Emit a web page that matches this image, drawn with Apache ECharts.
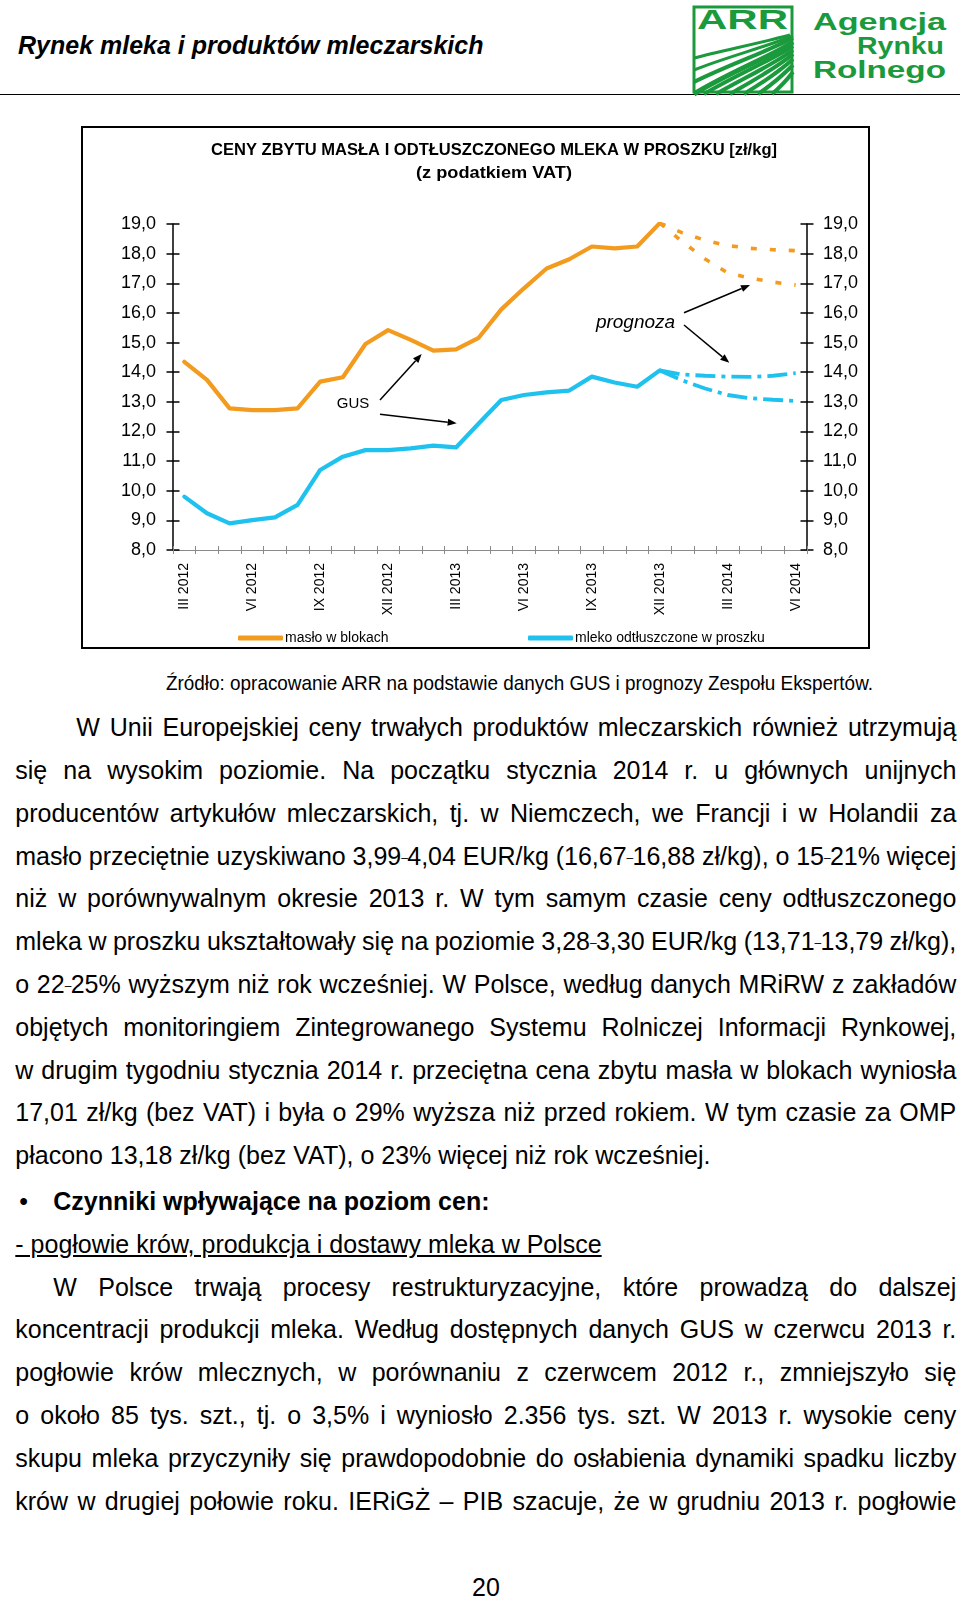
<!DOCTYPE html>
<html><head><meta charset="utf-8">
<script src="https://cdn.jsdelivr.net/npm/echarts/dist/echarts.min.js"></script>
<style>
html,body{margin:0;padding:0;background:#fff;}
body{width:960px;height:1598px;position:relative;overflow:hidden;font-family:"Liberation Sans",Arial,sans-serif;color:#000;}
#hdr{position:absolute;left:18px;top:30px;line-height:30px;font-style:italic;font-weight:bold;font-size:25px;white-space:nowrap;}
#rule{position:absolute;left:0;top:94px;width:960px;height:0;border-top:1.5px solid #000;}
#logo{position:absolute;left:690px;top:2px;}
#chart{position:absolute;left:81px;top:126px;width:789px;height:523px;border:2px solid #000;box-sizing:border-box;}
.fit{position:absolute;white-space:nowrap;transform-origin:0 50%;}
.blk{position:absolute;left:15.3px;width:941px;font-size:25px;}
.ln{height:42.8px;line-height:42.8px;white-space:nowrap;}
.nd{display:inline-block;width:6px;text-align:center;font-size:12px;position:relative;top:-3px;line-height:1;}
#pg{position:absolute;left:0;width:960px;text-align:center;top:1572px;line-height:30px;font-size:25px;padding-left:12px;box-sizing:border-box;}
</style></head>
<body>
<div id="hdr">Rynek mleka i produktów mleczarskich</div>
<div id="rule"></div>
<svg id="logo" width="270" height="95" xmlns="http://www.w3.org/2000/svg">
  <g stroke="#1a9a3d" fill="none">
    <path d="M4,92 C40,70 80,55 103,40" stroke-width="5"/>
    <path d="M14,92 C48,72 82,58 103,44" stroke-width="4"/>
    <path d="M26,92 C56,75 86,61 103,48" stroke-width="4"/>
    <path d="M40,92 C64,78 88,65 103,52" stroke-width="4"/>
    <path d="M54,92 C72,81 90,69 103,57" stroke-width="4"/>
    <path d="M68,92 C80,84 92,74 103,63" stroke-width="4"/>
    <path d="M82,92 C88,87 96,79 103,70" stroke-width="4"/>
    <path d="M4,80 C36,64 76,50 103,36" stroke-width="4"/>
    <path d="M4,68 C34,56 72,46 103,34" stroke-width="3"/>
    <path d="M4,56 C30,49 66,42 100,33" stroke-width="3"/>
  </g>
  <rect x="4" y="5" width="98" height="85" fill="none" stroke="#1a9a3d" stroke-width="3"/>
  <text x="7" y="27" font-family="Liberation Sans, Arial" font-weight="bold" font-size="28" fill="#1a9a3d" textLength="91" lengthAdjust="spacingAndGlyphs">ARR</text>
  <text x="123" y="28" font-family="Liberation Sans, Arial" font-weight="bold" font-size="24" fill="#1a9a3d" textLength="133" lengthAdjust="spacingAndGlyphs">Agencja</text>
  <text x="167" y="52" font-family="Liberation Sans, Arial" font-weight="bold" font-size="24" fill="#1a9a3d" textLength="87" lengthAdjust="spacingAndGlyphs">Rynku</text>
  <text x="123" y="76" font-family="Liberation Sans, Arial" font-weight="bold" font-size="24" fill="#1a9a3d" textLength="133" lengthAdjust="spacingAndGlyphs">Rolnego</text>
</svg>

<div id="chart"></div>

<div id="src" class="fit" data-w="707" style="left:166px;top:667.7px;line-height:30px;font-size:21px;">Źródło: opracowanie ARR na podstawie danych GUS i prognozy Zespołu Ekspertów.</div>

<div class="blk" id="b1" style="top:706.2px;"></div>
<div class="blk" id="b2" style="top:1180.1px;"></div>
<div id="pg">20</div>

<script>
// ---------------- chart data ----------------
const months = ['III 2012','IV 2012','V 2012','VI 2012','VII 2012','VIII 2012','IX 2012','X 2012','XI 2012','XII 2012',
  'I 2013','II 2013','III 2013','IV 2013','V 2013','VI 2013','VII 2013','VIII 2013','IX 2013','X 2013','XI 2013','XII 2013',
  'I 2014','II 2014','III 2014','IV 2014','V 2014','VI 2014'];
// GUS data, III 2012 .. XII 2013
const masloGUS = [14.35,13.74,12.78,12.72,12.72,12.78,13.68,13.83,14.95,15.42,15.09,14.73,14.77,15.16,16.12,16.83,17.50,17.81,18.24,18.18,18.24,19.03];
const mlekoGUS = [9.80,9.24,8.90,9.01,9.10,9.52,10.70,11.15,11.37,11.37,11.43,11.52,11.46,12.27,13.06,13.23,13.32,13.38,13.85,13.65,13.51,14.06];
// forecasts, XII 2013 .. VI 2014
const progStart = 'XII 2013';
const masloProgA = [19.03,18.70,18.45,18.27,18.18,18.13,18.10];
const masloProgB = [19.03,18.40,17.82,17.35,17.17,17.04,16.94];
const mlekoProgA = [14.06,13.92,13.88,13.85,13.84,13.88,13.97];
const mlekoProgB = [14.06,13.72,13.45,13.23,13.12,13.07,13.03];
const yMin = 8, yMax = 19, yStep = 1;
const seriesNames = ['masło w blokach','mleko odtłuszczone w proszku'];
const titleLines = ['CENY ZBYTU MASŁA I ODTŁUSZCZONEGO MLEKA W PROSZKU [zł/kg]','(z podatkiem VAT)'];

// ---------------- body text ----------------
const para1 = [
 'W Unii Europejskiej ceny trwałych produktów mleczarskich również utrzymują',
 'się na wysokim poziomie. Na początku stycznia 2014 r. u głównych unijnych',
 'producentów artykułów mleczarskich, tj. w Niemczech, we Francji i w Holandii za',
 'masło przeciętnie uzyskiwano 3,99–4,04 EUR/kg (16,67–16,88 zł/kg), o 15–21% więcej',
 'niż w porównywalnym okresie 2013 r. W tym samym czasie ceny odtłuszczonego',
 'mleka w proszku ukształtowały się na poziomie 3,28–3,30 EUR/kg (13,71–13,79 zł/kg),',
 'o 22–25% wyższym niż rok wcześniej. W Polsce, według danych MRiRW z zakładów',
 'objętych monitoringiem Zintegrowanego Systemu Rolniczej Informacji Rynkowej,',
 'w drugim tygodniu stycznia 2014 r. przeciętna cena zbytu masła w blokach wyniosła',
 '17,01 zł/kg (bez VAT) i była o 29% wyższa niż przed rokiem. W tym czasie za OMP',
 'płacono 13,18 zł/kg (bez VAT), o 23% więcej niż rok wcześniej.'
];
const para2 = [
 'W Polsce trwają procesy restrukturyzacyjne, które prowadzą do dalszej',
 'koncentracji produkcji mleka. Według dostępnych danych GUS w czerwcu 2013 r.',
 'pogłowie krów mlecznych, w porównaniu z czerwcem 2012 r., zmniejszyło się',
 'o około 85 tys. szt., tj. o 3,5% i wyniosło 2.356 tys. szt. W 2013 r. wysokie ceny',
 'skupu mleka przyczyniły się prawdopodobnie do osłabienia dynamiki spadku liczby',
 'krów w drugiej połowie roku. IERiGŻ – PIB szacuje, że w grudniu 2013 r. pogłowie'
];
const FULLW = 941;
function fillSpan(s, text){
  // numeric ranges (digit–digit) use a narrow dash, as in the printed page
  const parts = text.split(/(?<=\d)–(?=\d)/);
  parts.forEach((p,i)=>{
    if (i>0){ const d=document.createElement('span'); d.className='nd'; d.textContent='–'; s.appendChild(d); }
    s.appendChild(document.createTextNode(p));
  });
}
function addLine(parent, text, indent, justify, extra){
  const d = document.createElement('div'); d.className='ln';
  d.style.paddingLeft = indent + 'px';
  const s = document.createElement('span'); fillSpan(s, text);
  d.appendChild(s); parent.appendChild(d);
  if (extra) extra(d, s);
  if (justify){
    const w = s.getBoundingClientRect().width;
    const n = (text.match(/ /g)||[]).length;
    if (n) s.style.wordSpacing = ((FULLW - indent - w)/n) + 'px';
  }
  return d;
}
const b1 = document.getElementById('b1');
para1.forEach((t,i)=>addLine(b1, t, i===0?61:0, i<para1.length-1));
const b2 = document.getElementById('b2');
addLine(b2, 'Czynniki wpływające na poziom cen:', 38, false, (d,s)=>{
  s.style.fontWeight='bold';
  const b = document.createElement('span'); b.textContent='•';
  b.style.position='absolute'; b.style.left='4px';
  d.style.position='relative'; d.insertBefore(b, s);
});
addLine(b2, '- pogłowie krów, produkcja i dostawy mleka w Polsce', 0, false, (d,s)=>{ s.style.textDecoration='underline'; });
para2.forEach((t,i)=>addLine(b2, t, i===0?38:0, true));

document.querySelectorAll('.fit').forEach(el=>{
  const w = el.getBoundingClientRect().width;
  el.style.transform = 'scaleX(' + (parseFloat(el.dataset.w)/w) + ')';
});

// ---------------- chart ----------------
const FONT = '"Liberation Sans", Arial, sans-serif';
const ORANGE = '#F39B1E', BLUE = '#1FC2EE';
const startIdx = months.indexOf(progStart);
const pad = (arr, start) => months.map((m,i)=> (i>=start && i-start<arr.length) ? arr[i-start] : null);

const ctx = document.createElement('canvas').getContext('2d');
function fitScale(text, font, target){ ctx.font = font; return target / ctx.measureText(text).width; }

const chart = echarts.init(document.getElementById('chart'), null, {renderer:'canvas'});
const grid = {left:90, right:61, top:96, bottom:97};
const fmt = v => v.toFixed(1).replace('.', ',');
const yBase = {type:'value', min:yMin, max:yMax, interval:yStep, splitLine:{show:false}};
const yLine = {show:true, lineStyle:{color:'#000', width:1.5}};
const yTick = (inside)=>({show:true, inside, length:6.5, lineStyle:{color:'#000', width:1.5}});
const yLab = (margin)=>({show:true, formatter:fmt, fontSize:18, color:'#000', fontFamily:FONT, margin});

function arrow(x1,y1,x2,y2){
  const a = Math.atan2(y2-y1, x2-x1), L=9, W=3.6;
  const bx = x2-L*Math.cos(a), by = y2-L*Math.sin(a);
  const px = -Math.sin(a)*W, py = Math.cos(a)*W;
  return [
    {type:'line', shape:{x1, y1, x2:bx, y2:by}, style:{stroke:'#000', lineWidth:1.5}},
    {type:'polygon', shape:{points:[[x2,y2],[bx+px,by+py],[bx-px,by-py]]}, style:{fill:'#000'}}
  ];
}
const tfont = 'bold 17px "Liberation Sans"';
function txt(x,y,text,opts){
  return Object.assign({type:'text', x, y, style:Object.assign({text, fill:'#000', fontFamily:FONT,
     align:'center', verticalAlign:'middle', textAlign:'center', textVerticalAlign:'middle'}, opts.style||{})}, opts.el||{});
}

const graphics = [
  txt(411, 22, titleLines[0], {style:{fontSize:17, fontWeight:'bold'}, el:{scaleX: fitScale(titleLines[0], tfont, 566)}}),
  txt(411, 45, titleLines[1], {style:{fontSize:17, fontWeight:'bold'}, el:{scaleX: fitScale(titleLines[1], tfont, 156)}}),
  txt(270, 276, 'GUS', {style:{fontSize:15}}),
  txt(552.5, 194.7, 'prognoza', {style:{fontSize:19, fontStyle:'italic'}}),
  ...arrow(297,272,338.7,226),
  ...arrow(297,286.3,373.7,295.3),
  ...arrow(601,184.7,667,157),
  ...arrow(601,197,646.3,234.7)
];

const solid = (name, data, color)=>({name, type:'line', data, symbol:'none', connectNulls:false,
  lineStyle:{color, width:4.2, cap:'round', join:'round'}, itemStyle:{color}, z:3, silent:true});
const dashed = (name, data, color, dash, w)=>({name, type:'line', data, symbol:'none', connectNulls:false,
  lineStyle:{color, width:w, type:dash, cap:'butt'}, itemStyle:{color}, z:2, silent:true});

chart.setOption({
  animation:false,
  textStyle:{fontFamily:FONT},
  grid:Object.assign({containLabel:false, outerBoundsMode:'none'}, grid),
  legend:[
    {data:[seriesNames[0]], left:150, top:498, icon:'roundRect', itemWidth:45, itemHeight:5, itemGap:0, selectedMode:false,
     textStyle:{fontSize:14, color:'#000', fontFamily:FONT, padding:[0,0,0,-3]}},
    {data:[seriesNames[1]], left:440, top:498, icon:'roundRect', itemWidth:45, itemHeight:5, itemGap:0, selectedMode:false,
     textStyle:{fontSize:14, color:'#000', fontFamily:FONT, padding:[0,0,0,-3]}}
  ],
  xAxis:[
    {type:'category', data:months, position:'bottom', boundaryGap:true,
     axisLine:{show:true, lineStyle:{color:'#8a8a8a', width:1}},
     axisTick:{show:true, interval:0, length:4, lineStyle:{color:'#8a8a8a', width:1}},
     axisLabel:{show:true, interval:2, rotate:90, margin:13, fontSize:14, color:'#000', fontFamily:FONT},
     splitLine:{show:false}},
    {type:'category', data:months, position:'bottom', boundaryGap:true,
     axisLine:{show:false}, axisLabel:{show:false},
     axisTick:{show:true, inside:true, interval:0, length:4, lineStyle:{color:'#8a8a8a', width:1}},
     splitLine:{show:false}}
  ],
  yAxis:[
    Object.assign({position:'left', axisLine:yLine, axisTick:yTick(false), axisLabel:yLab(17)}, yBase),
    Object.assign({position:'left', axisLine:{show:false}, axisTick:yTick(true), axisLabel:{show:false}}, yBase),
    Object.assign({position:'right', axisLine:yLine, axisTick:yTick(false), axisLabel:yLab(16)}, yBase),
    Object.assign({position:'right', axisLine:{show:false}, axisTick:yTick(true), axisLabel:{show:false}}, yBase)
  ],
  graphic:{elements:graphics},
  series:[
    solid(seriesNames[0], masloGUS, ORANGE),
    solid(seriesNames[1], mlekoGUS, BLUE),
    dashed('masło – prognoza A', pad(masloProgA, startIdx), ORANGE, [6,13], 3.6),
    dashed('masło – prognoza B', pad(masloProgB, startIdx), ORANGE, [6,13], 3.6),
    dashed('mleko – prognoza A', pad(mlekoProgA, startIdx), BLUE, [20,6,4,6], 3.8),
    dashed('mleko – prognoza B', pad(mlekoProgB, startIdx), BLUE, [20,6,4,6], 3.8)
  ]
});
</script>
</body></html>
